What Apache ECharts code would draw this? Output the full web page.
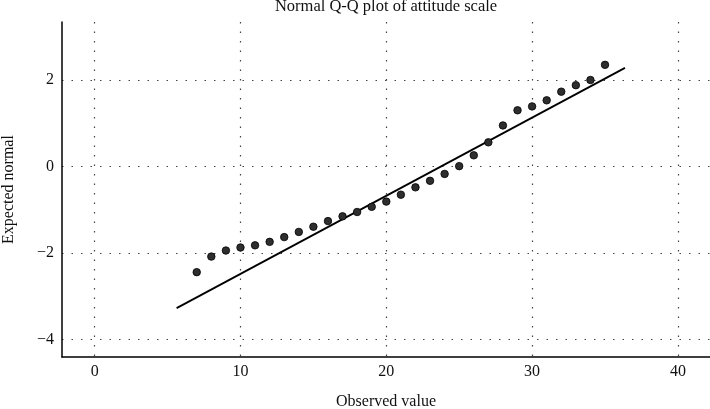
<!DOCTYPE html>
<html><head><meta charset="utf-8">
<script src="https://cdn.jsdelivr.net/npm/echarts@6/dist/echarts.min.js"></script>
<style>html,body{margin:0;padding:0;background:#fff}#c{width:710px;height:409px}</style>
</head><body><div id="c"></div>
<script>
const observed = [7,8,9,10,11,12,13,14,15,16,17,18,19,20,21,22,23,24,25,26,27,28,29,30,31,32,33,34,35];
const expected = [-2.44,-2.08,-1.94,-1.87,-1.82,-1.74,-1.63,-1.51,-1.39,-1.26,-1.15,-1.05,-0.93,-0.81,-0.65,-0.48,-0.33,-0.17,0.01,0.26,0.56,0.95,1.30,1.39,1.53,1.73,1.88,2.00,2.35];
const refLineX = [5.62, 36.37];
const refLineY = [-3.27, 2.28];
const titleText = 'Normal Q-Q plot of attitude scale';
const xName = 'Observed value';
const yName = 'Expected normal';

const font = 'Liberation Serif';
const grid = {color:'#444', type:[1.5,8], width:1.2};
const chart = echarts.init(document.getElementById('c'));
chart.setOption({
  animation:false,
  backgroundColor:'#fff',
  title:{text:titleText,left:386,textAlign:'center',top:-2,padding:0,
    textStyle:{fontFamily:font,fontSize:16.5,fontWeight:'normal',color:'#111'}},
  grid:{left:62,right:0,top:22,bottom:52,containLabel:false,outerBoundsMode:'none'},
  xAxis:{type:'value',min:-2.24,max:42.2,name:xName,nameLocation:'middle',nameGap:37,
    nameTextStyle:{fontFamily:font,fontSize:16,color:'#111'},
    axisLine:{show:true,onZero:false,lineStyle:{color:'#000',width:1.5}},
    axisTick:{show:false},
    axisLabel:{showMinLabel:false,showMaxLabel:false,margin:7,fontFamily:font,fontSize:16,color:'#111'},
    splitLine:{show:true,showMinLine:false,showMaxLine:false,lineStyle:grid}},
  yAxis:{type:'value',min:-4.4,max:3.34,name:yName,nameLocation:'middle',nameGap:45,
    nameTextStyle:{fontFamily:font,fontSize:16,color:'#111'},
    axisLine:{show:true,onZero:false,lineStyle:{color:'#000',width:1.5}},
    axisTick:{show:false},
    axisLabel:{showMinLabel:false,showMaxLabel:false,margin:8,fontFamily:font,fontSize:16,color:'#111',
      formatter:v=>String(v).replace('-','\u2212')},
    splitLine:{show:true,showMinLine:false,showMaxLine:false,lineStyle:grid}},
  series:[
    {type:'line',data:refLineX.map((x,i)=>[x,refLineY[i]]),symbol:'none',
      lineStyle:{color:'#000',width:1.8},z:2},
    {type:'scatter',data:observed.map((x,i)=>[x,expected[i]]),symbol:'circle',symbolSize:7.5,
      itemStyle:{color:'#2e2e2e',borderColor:'#000',borderWidth:0.8,opacity:1},z:3}
  ]
});
</script></body></html>
